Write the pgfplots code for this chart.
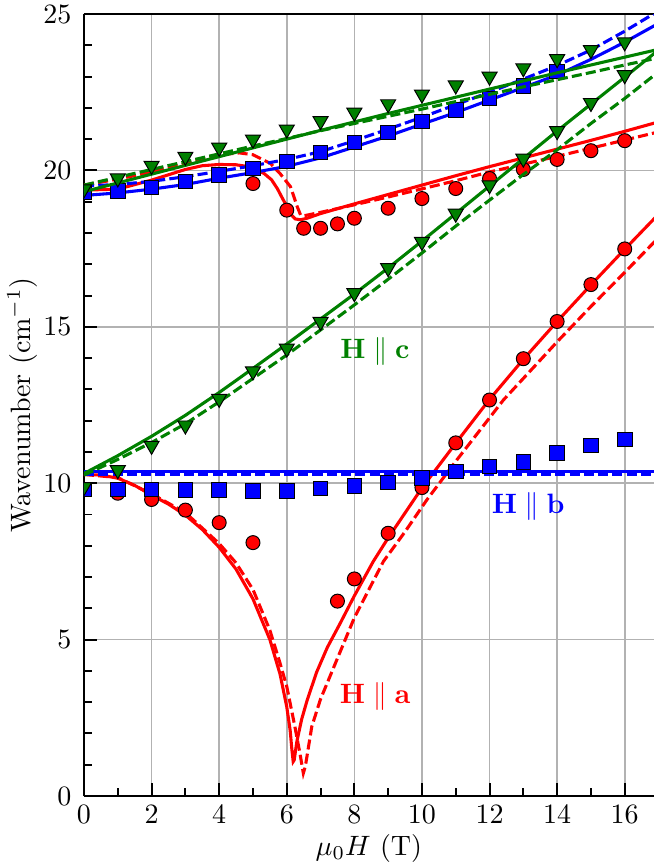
\documentclass[border=0pt]{standalone}
\usepackage{pgfplots}
\pgfplotsset{compat=1.18}
\definecolor{mred}{RGB}{255,0,0}
\definecolor{mblue}{RGB}{0,0,255}
\definecolor{mgreen}{RGB}{0,128,0}
\begin{document}
\begin{tikzpicture}
\begin{axis}[
  scale only axis, width=203.5pt, height=279.29pt,
  at={(0pt,0pt)}, anchor=south west,
  xmin=0, xmax=16.86, ymin=0, ymax=25,
  xtick={0,2,...,16}, ytick={0,5,...,25},
  minor xtick={1,3,...,15}, minor y tick num=4,
  axis x line*=box, axis y line*=left,
  x axis line style={-}, y axis line style={-},
  tick align=inside, xtick pos=bottom, ytick pos=left,
  major tick length=4.5pt, minor tick length=2.8pt,
  grid=major, major grid style={black!30, line width=0.6pt},
  axis line style={line width=0.8pt},
  every tick/.style={black, line width=0.7pt},
  every tick label/.append style={overlay},
  yticklabel style={xshift=-1pt},
  clip marker paths=true,
  xlabel={$\mu_0H$ (T)}, ylabel={Wavenumber (cm$^{-1}$)},
  every axis x label/.style={at={([yshift=-18.6pt]axis description cs:0.5,0)}, anchor=center, overlay},
  every axis y label/.style={at={([xshift=-22.1pt]axis description cs:0,0.5)}, anchor=center, rotate=90, overlay},
  solidl/.style={line width=1.1pt, no marks},
  dashl/.style={line width=1.1pt, no marks, dash pattern=on 3.6pt off 1.5pt},
]
% ---------- H || a (red) ----------
\addplot[solidl, mred] coordinates {
(0,10.28)(0.5,10.26)(1,10.16)(1.5,9.93)(2,9.62)(2.5,9.33)(3,8.98)(3.5,8.52)(4,7.95)(4.5,7.25)(5,6.3)(5.5,5.0)(5.8,3.9)(6.0,2.85)(6.1,2.1)(6.15,1.5)(6.19,1.1)(6.22,1.15)(6.3,1.75)(6.44,2.45)(6.6,3.05)(6.88,3.95)(7.2,4.75)(7.57,5.5)(8,6.4)(8.56,7.5)(9,8.25)(9.5,9.05)(10,9.85)(11,11.28)(12,12.68)(13,13.96)(14,15.17)(15,16.34)(16,17.48)(17,18.6)};
\addplot[dashl, mred] coordinates {
(0,10.28)(1,10.18)(2,9.66)(3,9.06)(4,8.07)(4.5,7.45)(5,6.6)(5.5,5.3)(5.8,4.25)(6.0,3.5)(6.24,2.22)(6.4,1.3)(6.49,0.73)(6.55,0.95)(6.74,2.22)(7.0,3.1)(7.48,4.35)(8,5.7)(8.86,7.5)(9.5,8.45)(10.14,9.46)(11,10.7)(12.41,12.66)(13,13.35)(14,14.52)(15,15.65)(16,16.74)(17,17.85)};
\addplot[solidl, mred] coordinates {
(0,19.37)(1,19.4)(2,19.69)(3,20.03)(3.5,20.15)(4,20.19)(4.5,20.18)(4.75,20.14)(5,20.07)(5.33,19.9)(5.55,19.7)(5.72,19.42)(5.9,19.05)(6.01,18.84)(6.15,18.56)(6.25,18.45)(6.4,18.42)(6.6,18.47)(7,18.62)(8,18.93)(9,19.23)(10,19.53)(11,19.83)(12,20.12)(13,20.4)(14,20.68)(15,20.96)(16,21.25)(17,21.55)};
\addplot[dashl, mred] coordinates {
(0,19.53)(1,19.72)(2,19.95)(3,20.22)(4,20.5)(4.6,20.56)(5,20.5)(5.52,20.22)(5.8,19.9)(6.11,19.48)(6.31,18.84)(6.41,18.57)(6.5,18.55)(6.6,18.57)(7,18.66)(8,18.9)(9,19.15)(10,19.41)(11,19.67)(12,19.95)(13,20.2)(14,20.45)(15,20.71)(16,20.97)(17,21.23)};
\addplot[only marks, mark=*, mark size=2.5pt, mark options={fill=mred, draw=black, line width=0.35pt}] coordinates {
(1,9.68)(2,9.48)(3,9.14)(4,8.74)(5,8.1)(7.5,6.23)(8,6.94)(9,8.4)(10,9.86)(11,11.29)(12,12.66)(13,13.98)(14,15.17)(15,16.35)(16,17.49)(17,18.6)
(5,19.58)(6,18.73)(6.5,18.15)(7,18.15)(7.5,18.29)(8,18.47)(9,18.79)(10,19.1)(11,19.42)(12,19.74)(13,20.03)(14,20.35)(15,20.63)(16,20.95)(17,21.23)};
% ---------- H || b (blue) ----------
\addplot[solidl, mblue] coordinates {(0,10.36)(17,10.36)};
\addplot[dashl, mblue] coordinates {(0,10.27)(17,10.27)};
\addplot[solidl, mblue] coordinates {
(0,19.2)(1,19.28)(2,19.4)(3,19.55)(4,19.75)(5,19.93)(6,20.13)(7,20.4)(8,20.75)(9,21.1)(10,21.48)(11,21.85)(12,22.25)(13,22.65)(14,23.05)(15,23.55)(16,24.1)(17,24.7)};
\addplot[dashl, mblue] coordinates {
(0,19.5)(1,19.55)(2,19.65)(3,19.8)(4,19.97)(5,20.15)(6,20.35)(7,20.6)(8,20.95)(9,21.32)(10,21.7)(11,22.1)(12,22.5)(13,22.92)(14,23.35)(15,23.85)(16,24.45)(17,25.1)};
\addplot[only marks, mark=square*, mark size=2.6pt, mark options={fill=mblue, draw=black, line width=0.35pt}] coordinates {
(0,9.8)(1,9.8)(2,9.8)(3,9.78)(4,9.78)(5,9.76)(6,9.76)(7,9.83)(8,9.91)(9,10.02)(10,10.16)(11,10.37)(12,10.53)(13,10.67)(14,10.96)(15,11.2)(16,11.4)
(0,19.29)(1,19.35)(2,19.46)(3,19.64)(4,19.85)(5,20.06)(6,20.28)(7,20.57)(8,20.89)(9,21.21)(10,21.56)(11,21.93)(12,22.3)(13,22.7)(14,23.16)};
% ---------- H || c (green) ----------
\addplot[solidl, mgreen] coordinates {
(0,19.32)(1,19.6)(2,19.88)(3,20.16)(4,20.44)(5,20.72)(6,21.0)(7,21.28)(8,21.55)(9,21.82)(10,22.08)(11,22.34)(12,22.6)(13,22.86)(14,23.12)(15,23.37)(16,23.62)(17,23.87)};
\addplot[dashl, mgreen] coordinates {
(0,19.53)(1,19.78)(2,20.03)(3,20.28)(4,20.53)(5,20.78)(6,21.02)(7,21.27)(8,21.5)(9,21.73)(10,21.96)(11,22.2)(12,22.43)(13,22.67)(14,22.9)(15,23.13)(16,23.37)(17,23.6)};
\addplot[solidl, mgreen] coordinates {
(0,10.31)(1,10.88)(2,11.5)(3,12.17)(4,12.9)(5,13.67)(6,14.45)(7,15.25)(8,16.05)(9,16.88)(10,17.74)(11,18.62)(12,19.5)(13,20.38)(14,21.26)(15,22.12)(16,22.98)(17,23.85)};
\addplot[dashl, mgreen] coordinates {
(0,10.26)(1,10.76)(2,11.3)(3,11.9)(4,12.6)(5,13.35)(6,14.1)(7,14.9)(8,15.7)(9,16.52)(10,17.36)(11,18.22)(12,19.05)(13,19.87)(14,20.66)(15,21.5)(16,22.3)(17,23.15)};
\addplot[only marks, mark=triangle*, mark size=3.1pt, mark options={fill=mgreen, draw=black, line width=0.35pt, rotate=180}] coordinates {
(0,19.4)(1,19.75)(2,20.15)(3,20.44)(4,20.73)(5,20.99)(6,21.31)(7,21.58)(8,21.85)(9,22.12)(10,22.43)(11,22.72)(12,23.0)(13,23.27)(14,23.56)(15,23.85)(16,24.1)(17,24.43)
(0,9.88)(1,10.42)(2,11.2)(3,11.85)(4,12.7)(5,13.58)(6,14.31)(7,15.16)(8,16.08)(9,16.88)(10,17.72)(11,18.62)(12,19.53)(13,20.38)(14,21.26)(15,22.16)(16,23.05)(17,23.95)};
% ---------- labels ----------
\node[text=mred] at (axis cs:8.61,3.17) {$\mathbf{H}\parallel\mathbf{a}$};
\node[text=mblue] at (axis cs:13.14,9.25) {$\mathbf{H}\parallel\mathbf{b}$};
\node[text=mgreen] at (axis cs:8.61,14.2) {$\mathbf{H}\parallel\mathbf{c}$};
\end{axis}
\path (-30pt,-24.64pt) rectangle (203.5pt,284.29pt);
\end{tikzpicture}
\end{document}
